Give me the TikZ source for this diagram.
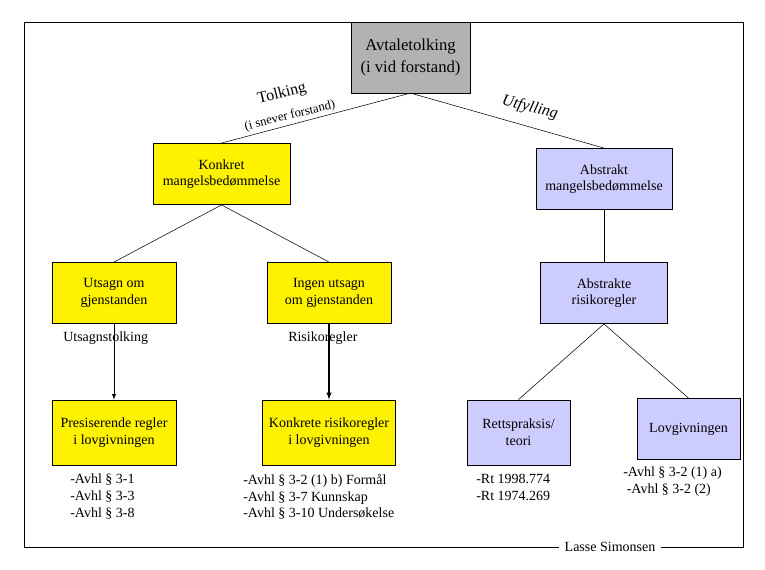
\documentclass[tikz,border=0pt]{standalone}
\usepackage{fontspec}
\setmainfont{Liberation Serif}
\usetikzlibrary{positioning}

\begin{document}
\begin{tikzpicture}[x=0.75pt, y=-0.75pt, font=\fontsize{10.5}{12.5}\selectfont,
box/.style={rectangle, draw=black, align=center, inner sep=0pt},
yellow_box/.style={box, fill=yellow},
blue_box/.style={box, fill={rgb,255:red,204;green,204;blue,255}},
grey_box/.style={box, fill={rgb,255:red,178;green,178;blue,178}},
note/.style={align=left, anchor=north west, inner sep=0pt},
]
\useasboundingbox (0,0) rectangle (765,570);
\draw (24,22) rectangle (743,547);

% top
\node[grey_box, minimum width=89pt, minimum height=53pt, font=\fontsize{12.5}{16}\selectfont](avtale) at (410.5,57.5){Avtaletolking\\(i vid forstand)};

% second level
\node[yellow_box, minimum width=103pt, minimum height=46pt](konkret) at (221.5,174){Konkret\\mangelsbedømmelse};
\node[blue_box, minimum width=102pt, minimum height=46pt](abstrakt) at (604,179){Abstrakt\\mangelsbedømmelse};

% third level
\node[yellow_box, minimum width=93pt, minimum height=46pt](utsagn) at (114,293){Utsagn om\\gjenstanden};
\node[yellow_box, minimum width=93pt, minimum height=46pt](ingen) at (329,293){Ingen utsagn\\om gjenstanden};
\node[blue_box, minimum width=95pt, minimum height=46pt](abstrakte) at (604,293){Abstrakte\\risikoregler};

% fourth level
\node[yellow_box, minimum width=93pt, minimum height=49pt](presis) at (114,432.5){Presiserende regler\\i lovgivningen};
\node[yellow_box, minimum width=100pt, minimum height=49pt](konkrete) at (329,432.5){Konkrete risikoregler\\i lovgivningen};
\node[blue_box, minimum width=77pt, minimum height=49pt](retts) at (518.5,432.5){Rettspraksis/\\teori};
\node[blue_box, minimum width=77pt, minimum height=46pt](lov) at (688.5,429){Lovgivningen};

% labels
\node[note](utsagn_label) at (63,332){Utsagnstolking};
\node[note](risiko_label) at (288,332){Risikoregler};
\node[note](presis_list) at (70,474){-Avhl § 3-1\\-Avhl § 3-3\\-Avhl § 3-8};
\node[note](konkrete_list) at (243,474){-Avhl § 3-2 (1) b) Formål\\-Avhl § 3-7 Kunnskap\\-Avhl § 3-10 Undersøkelse};
\node[note](retts_list) at (476,474){-Rt 1998.774\\-Rt 1974.269};
\node[note](lov_list) at (623,467){-Avhl § 3-2 (1) a)\\\ -Avhl § 3-2 (2)};
\node[fill=white, inner xsep=4pt, inner ysep=1pt](signature) at (610,547){Lasse Simonsen};

\node[rotate=14, font=\fontsize{12}{13}\selectfont](tolking_label) at (282,94){Tolking};
\node[rotate=14, font=\fontsize{9.5}{10}\selectfont](snever_label) at (290,116){(i snever forstand)};
\node[rotate=-14, font=\fontsize{12}{13}\selectfont\itshape](utfylling_label) at (530,108){Utfylling};

% connectors
\draw (avtale.south) -- (konkret.north);
\draw (avtale.south) -- (abstrakt.north);
\draw (konkret.south) -- (utsagn.north);
\draw (konkret.south) -- (ingen.north);
\draw (abstrakt.south) -- (abstrakte.north);
\draw (abstrakte.south) -- (retts.north);
\draw (abstrakte.south) -- (lov.north);
\draw[-latex] (utsagn.south) -- (presis.north);
\draw[-latex, thick] (ingen.south) -- (konkrete.north);

\end{tikzpicture}
\end{document}
